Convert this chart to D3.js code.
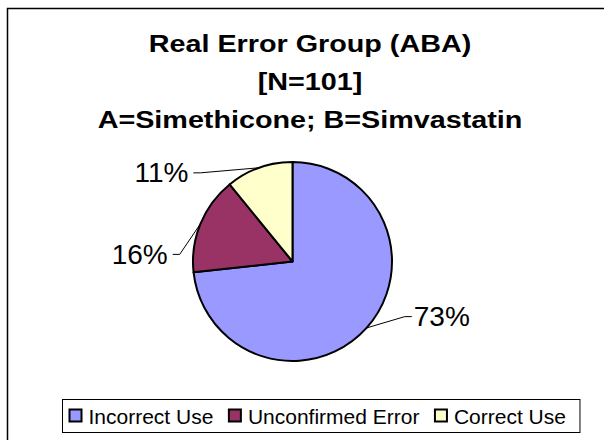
<!DOCTYPE html>
<html>
<head>
<meta charset="utf-8">
<script src="https://cdn.jsdelivr.net/npm/d3@7"></script>
<style>
  html, body { margin: 0; padding: 0; background: #fff; }
  svg { display: block; font-family: "Liberation Sans", Arial, sans-serif; }
</style>
</head>
<body>
<script>
// chart data
const titleLines = ["Real Error Group (ABA)", "[N=101]", "A=Simethicone; B=Simvastatin"];
const categories = ["Incorrect Use", "Unconfirmed Error", "Correct Use"];
const counts = [74, 16, 11];
const colors = ["#9999FF", "#993366", "#FFFFCC"];

// label anchors (clock angle in degrees, radius) and text side
const labelPlace = [
  { deg: 114.8, r: 131.4, side: 1 },
  { deg: 273.4, r: 120, side: -1 },
  { deg: 311.8, r: 133, side: -1 }
];

const width = 604, height = 440;
const cx = 292.5, cy = 261.5, radius = 99.5;

const svg = d3.select("body").append("svg")
  .attr("width", width)
  .attr("height", height);

// outer chart frame (right and bottom edges fall outside the picture)
svg.append("rect")
  .attr("x", 7.5).attr("y", 8.5)
  .attr("width", 620).attr("height", 450)
  .attr("fill", "#fff")
  .attr("stroke", "#000")
  .attr("stroke-width", 1.5);

// title
const title = svg.append("g")
  .attr("transform", "translate(310,0) scale(1.25,1)");
title.selectAll("text")
  .data(titleLines)
  .join("text")
  .attr("x", 0)
  .attr("y", (d, i) => 51.7 + i * 38.4)
  .attr("text-anchor", "middle")
  .attr("font-size", 23)
  .attr("font-weight", "bold")
  .attr("fill", "#000")
  .text(d => d);

// pie
const total = d3.sum(counts);
const pie = d3.pie().sort(null).value(d => d);
const arcs = pie(counts);
const arc = d3.arc().innerRadius(0).outerRadius(radius);
const edge = d3.arc().innerRadius(radius).outerRadius(radius);

const g = svg.append("g").attr("transform", `translate(${cx},${cy})`);

g.selectAll("path.slice")
  .data(arcs)
  .join("path")
  .attr("class", "slice")
  .attr("d", arc)
  .attr("fill", (d, i) => colors[i])
  .attr("stroke", "#000")
  .attr("stroke-width", 2)
  .attr("stroke-linejoin", "round");

// leader lines and labels
arcs.forEach((d, i) => {
  const p = labelPlace[i];
  const [ax, ay] = d3.pointRadial(p.deg * Math.PI / 180, p.r);
  const [ex, ey] = edge.centroid(d);
  const elbow = [ax - p.side * 7, ay];

  g.append("path")
    .attr("d", d3.line()([[ex, ey], elbow, [ax, ay]]))
    .attr("fill", "none")
    .attr("stroke", "#000")
    .attr("stroke-width", 1);

  g.append("text")
    .attr("x", ax + p.side * (p.side > 0 ? 2 : 5))
    .attr("y", ay + 9.5)
    .attr("text-anchor", p.side > 0 ? "start" : "end")
    .attr("font-size", 28)
    .attr("fill", "#000")
    .text(Math.round(counts[i] / total * 100) + "%");
});

// legend
const legend = svg.append("g");
const legendBox = legend.append("rect")
  .attr("fill", "#fff")
  .attr("stroke", "#000")
  .attr("stroke-width", 1);

const legendLeft = 62.5, legendTop = 399.5, legendH = 33;
let lx = legendLeft + 7;
categories.forEach((c, i) => {
  legend.append("rect")
    .attr("x", lx).attr("y", 409.5)
    .attr("width", 12).attr("height", 12)
    .attr("fill", colors[i])
    .attr("stroke", "#000")
    .attr("stroke-width", 2);
  const t = legend.append("text")
    .attr("x", lx + 19)
    .attr("y", 423.5)
    .attr("font-size", 21)
    .attr("fill", "#000")
    .text(c);
  lx += 19 + t.node().getComputedTextLength() + 15.5;
});

legendBox
  .attr("x", legendLeft).attr("y", legendTop)
  .attr("width", lx - 15.5 + 14 - legendLeft)
  .attr("height", legendH);
</script>
</body>
</html>
